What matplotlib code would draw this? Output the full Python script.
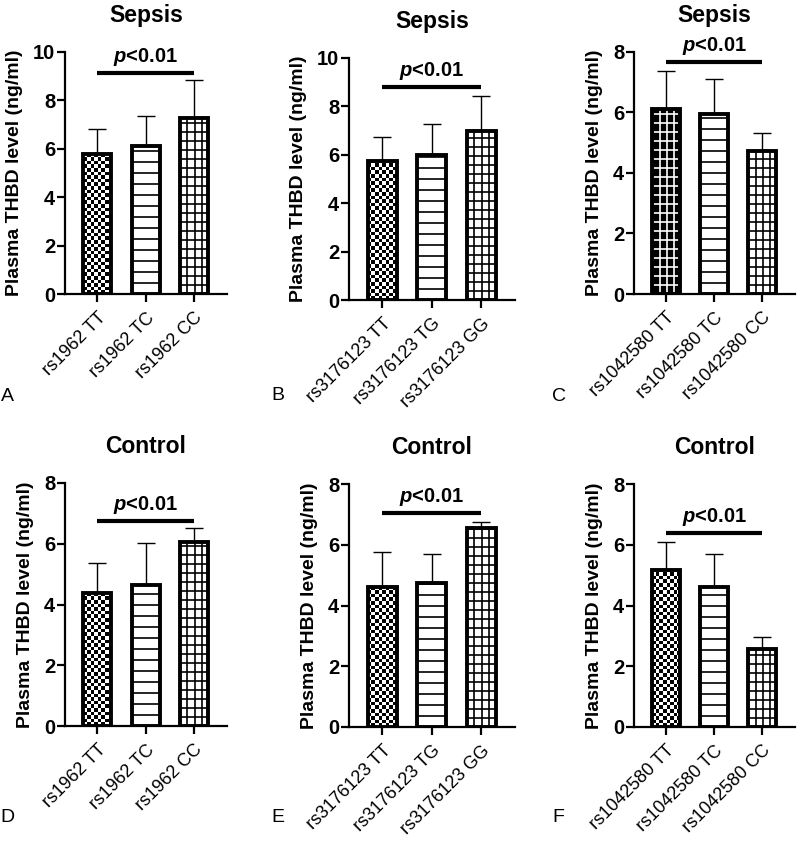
import numpy as np
import matplotlib
matplotlib.use("Agg")
import matplotlib.pyplot as plt
from matplotlib.collections import LineCollection

plt.rcParams['font.family'] = ['Liberation Sans', 'DejaVu Sans']
plt.rcParams['mathtext.fontset'] = 'custom'
plt.rcParams['mathtext.it'] = 'Liberation Sans:italic:bold'
plt.rcParams['mathtext.rm'] = 'Liberation Sans:bold'

# data (mean and upper SD)
letters = ["A", "B", "C", "D", "E", "F"]
titles = ["Sepsis", "Sepsis", "Sepsis", "Control", "Control", "Control"]
labels_rs1962 = ["rs1962 TT", "rs1962 TC", "rs1962 CC"]
labels_rs3176123 = ["rs3176123 TT", "rs3176123 TG", "rs3176123 GG"]
labels_rs1042580 = ["rs1042580 TT", "rs1042580 TC", "rs1042580 CC"]

mean_a = [5.80, 6.10, 7.27]
sd_a = [1.02, 1.24, 1.56]
mean_b = [5.75, 6.00, 7.00]
sd_b = [0.97, 1.27, 1.44]
mean_c = [6.13, 5.95, 4.74]
sd_c = [1.24, 1.15, 0.59]
mean_d = [4.37, 4.65, 6.05]
sd_d = [0.99, 1.39, 0.47]
mean_e = [4.62, 4.75, 6.56]
sd_e = [1.13, 0.95, 0.19]
mean_f = [5.18, 4.61, 2.56]
sd_f = [0.90, 1.09, 0.41]

sig_y = [9.15, 8.8, 7.66, 6.74, 7.05, 6.39]
y_max = [10, 10, 8, 8, 8, 8]
sig_text = r'$p$<0.01'

panels = [
    (labels_rs1962, mean_a, sd_a, ["checker", "hlines", "grid"]),
    (labels_rs3176123, mean_b, sd_b, ["checker", "hlines", "grid"]),
    (labels_rs1042580, mean_c, sd_c, ["darkgrid", "hlines", "grid"]),
    (labels_rs1962, mean_d, sd_d, ["checker", "hlines", "grid"]),
    (labels_rs3176123, mean_e, sd_e, ["checker", "hlines", "grid"]),
    (labels_rs1042580, mean_f, sd_f, ["checker", "hlines", "grid"]),
]

# axes boxes in pixels: left, right, top, bottom
boxes = [(65, 227, 52, 294), (349, 515, 58, 300), (634, 795, 52, 294),
         (65, 227, 483, 726), (349, 515, 484, 727), (634, 795, 484, 727)]
letter_pos = [(7, 397), (278, 395), (559, 397), (7, 817), (278, 817), (558, 817)]

W, H = 800, 841
fig = plt.figure(figsize=(W / 100, H / 100), dpi=100)


def draw_pattern(ax, bar, kind):
    x0, w, h = bar.get_x(), bar.get_width(), bar.get_height()
    (px0, py0), (px1, py1) = ax.transData.transform([(0, 0), (1, 1)])
    sx, sy = px1 - px0, py1 - py0
    if kind == "checker":
        cx, cy = 3.6 / sx, 3.6 / sy
        xs = np.arange(x0, x0 + w + cx, cx)
        ys = np.arange(0, h + cy, cy)
        c = np.add.outer(np.arange(len(ys) - 1), np.arange(len(xs) - 1)) % 2
        m = ax.pcolormesh(xs, ys, c, cmap="binary", vmin=0, vmax=1,
                          zorder=2, antialiased=False)
        m.set_clip_path(bar)
        return
    color = "white" if kind == "darkgrid" else "black"
    segs = []
    dy = (11 if kind == "hlines" else 9) / sy
    for y in np.arange(dy, h, dy):
        segs.append([(x0, y), (x0 + w, y)])
    if kind != "hlines":
        dx = 7.3 / sx
        for x in np.arange(x0 + dx, x0 + w - dx * 0.3, dx):
            segs.append([(x, 0), (x, h)])
    lc = LineCollection(segs, colors=color, linewidths=1.2, zorder=2)
    lc.set_clip_path(bar)
    ax.add_collection(lc)


for i, (labels, means, sds, kinds) in enumerate(panels):
    l, r, t, b = boxes[i]
    ax = fig.add_axes([l / W, 1 - b / H, (r - l) / W, (b - t) / H])
    x = np.arange(len(labels))
    ax.set_xlim(-0.67, 2.68)
    ax.set_ylim(0, y_max[i])
    ax.set_autoscale_on(False)

    ax.errorbar(x, means, yerr=[np.zeros(len(sds)), sds], fmt="none",
                ecolor="black", elinewidth=1, capsize=6.5, capthick=1, zorder=0.5)
    faces = ["black" if k == "darkgrid" else "white" for k in kinds]
    bars = ax.bar(x, means, width=0.58, color=faces, edgecolor="none", zorder=1)
    for bar, kind in zip(bars, kinds):
        draw_pattern(ax, bar, kind)
    ax.bar(x, means, width=0.58, fill=False, edgecolor="black", linewidth=2.8, zorder=3)

    ax.plot([x[0], x[-1]], [sig_y[i], sig_y[i]], color="black", lw=3,
            solid_capstyle="butt", zorder=3)
    ax.annotate(sig_text, xy=(x[1], sig_y[i]), xytext=(0, 3.5), textcoords="offset points",
                ha="center", va="bottom", fontsize=14.5, fontweight="bold")
    ax.annotate(titles[i], xy=(0.5, 1), xycoords="axes fraction", xytext=(0, 26),
                textcoords="offset points", ha="center", va="center",
                fontsize=16.5, fontweight="bold")

    for s in ["top", "right"]:
        ax.spines[s].set_visible(False)
    for s in ["left", "bottom"]:
        ax.spines[s].set_linewidth(1.6)
    ax.tick_params(axis="both", width=1.6, length=6, direction="out")
    ax.tick_params(axis="y", pad=1)
    ax.tick_params(axis="x", pad=5)
    yt = np.arange(0, y_max[i] + 1, 2)
    ax.set_yticks(yt, [str(v) for v in yt], fontsize=14.5, fontweight="bold")
    ax.set_xticks(x, labels, rotation=45, ha="right", rotation_mode="anchor", fontsize=13)
    ax.set_ylabel("Plasma THBD level (ng/ml)", fontsize=14, fontweight="bold", labelpad=7)

    lx, ly = letter_pos[i]
    fig.text(lx / W, 1 - ly / H, letters[i], ha="center", va="center", fontsize=14)

fig.savefig("out.png", dpi=100)
